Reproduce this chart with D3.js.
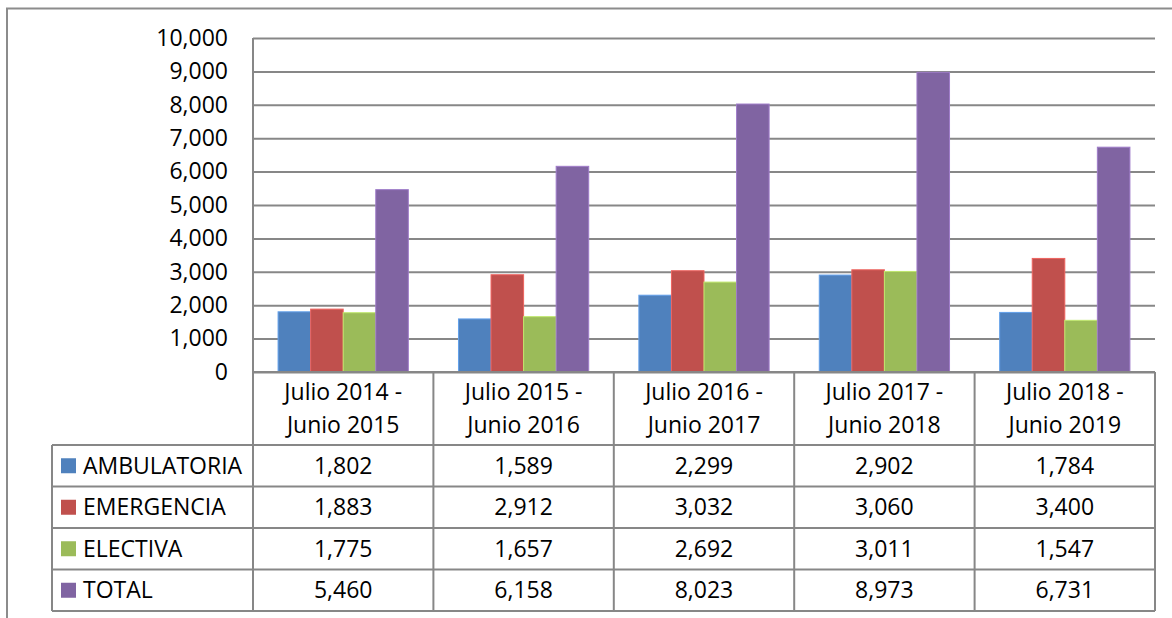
<!DOCTYPE html>
<html>
<head>
<meta charset="utf-8">
<script src="https://cdn.jsdelivr.net/npm/d3@7"></script>
<style>
  html, body { margin: 0; padding: 0; background: #fff; }
  svg { display: block; font-family: "Open Sans", "Liberation Sans", sans-serif; }
</style>
</head>
<body>
<svg id="chart" width="1172" height="618"></svg>
<script>
const categories = [
  ["Julio 2014 -", "Junio 2015"],
  ["Julio 2015 -", "Junio 2016"],
  ["Julio 2016 -", "Junio 2017"],
  ["Julio 2017 -", "Junio 2018"],
  ["Julio 2018 -", "Junio 2019"]
];
const seriesNames = ["AMBULATORIA", "EMERGENCIA", "ELECTIVA", "TOTAL"];
const ambulatoria = [1802, 1589, 2299, 2902, 1784];
const emergencia  = [1883, 2912, 3032, 3060, 3400];
const electiva    = [1775, 1657, 2692, 3011, 1547];
const total       = [5460, 6158, 8023, 8973, 6731];
const seriesColors = ["#4F81BD", "#C0504D", "#9BBB59", "#8064A2"];
const yTicks = [0, 1000, 2000, 3000, 4000, 5000, 6000, 7000, 8000, 9000, 10000];

const seriesValues = [ambulatoria, emergencia, electiva, total];
const catKeys = categories.map((c, i) => i);

const svg = d3.select("#chart");
const gridColor = "#878787";
const fontSize = 23;

const plotLeft = 253, plotRight = 1155, plotTop = 38, plotBottom = 372;
const tableLeft = 52;
const headerBottom = 445;
const rowH = 41.5;
const tableBottom = headerBottom + rowH * seriesNames.length;

const x = d3.scaleBand().domain(catKeys).range([plotLeft, plotRight]).padding(0);
const bw = x.bandwidth();
const xSub = d3.scaleBand().domain(d3.range(seriesNames.length))
  .range([bw * 0.139, bw * 0.861]).padding(0);
const y = d3.scaleLinear().domain([0, 10000]).range([plotBottom, plotTop]);

// outer chart border
svg.append("path")
  .attr("d", `M7,618 L7,8.5 L1172,8.5`)
  .attr("fill", "none").attr("stroke", "#8c8c8c").attr("stroke-width", 2);

// gridlines
svg.append("g")
  .attr("transform", `translate(${plotLeft},0)`)
  .call(d3.axisLeft(y).tickValues(yTicks).tickSize(-(plotRight - plotLeft)).tickFormat(""))
  .call(g => g.select(".domain").remove())
  .call(g => g.selectAll("line").attr("stroke", gridColor).attr("stroke-width", 2));

// y tick labels
svg.append("g")
  .attr("transform", `translate(${plotLeft},0)`)
  .call(d3.axisLeft(y).tickValues(yTicks).tickSize(0).tickPadding(25).tickFormat(d3.format(",")))
  .call(g => g.select(".domain").remove())
  .call(g => g.selectAll("text")
    .attr("font-size", fontSize).attr("fill", "#000")
    .attr("font-family", "'Open Sans', 'Liberation Sans', sans-serif"));

// bars
const groups = svg.append("g").selectAll("g")
  .data(catKeys).join("g")
  .attr("transform", d => `translate(${x(d)},0)`);
groups.selectAll("rect")
  .data(ci => seriesValues.map((vals, si) => ({ si, v: vals[ci] })))
  .join("rect")
  .attr("x", d => xSub(d.si))
  .attr("width", xSub.bandwidth())
  .attr("y", d => y(d.v))
  .attr("height", d => y(0) - y(d.v))
  .attr("fill", d => seriesColors[d.si])
  .attr("stroke", d => d3.color(seriesColors[d.si]).brighter(0.6))
  .attr("stroke-width", 1);

// table lines
const lines = svg.append("g").attr("stroke", gridColor).attr("stroke-width", 2).attr("fill", "none");
lines.append("line").attr("x1", plotLeft).attr("x2", plotRight).attr("y1", plotBottom).attr("y2", plotBottom);
lines.append("line").attr("x1", plotLeft).attr("x2", plotLeft).attr("y1", plotTop).attr("y2", tableBottom);
catKeys.forEach(ci => {
  const xr = x(ci) + bw;
  lines.append("line").attr("x1", xr).attr("x2", xr).attr("y1", plotBottom).attr("y2", tableBottom);
});
d3.range(seriesNames.length + 1).forEach(r => {
  const yy = headerBottom + r * rowH;
  lines.append("line").attr("x1", tableLeft).attr("x2", plotRight).attr("y1", yy).attr("y2", yy);
});
lines.append("line").attr("x1", tableLeft).attr("x2", tableLeft).attr("y1", headerBottom).attr("y2", tableBottom);

// category labels
const catText = svg.append("g").attr("font-size", fontSize).attr("fill", "#000").attr("text-anchor", "middle");
categories.forEach((lbls, ci) => {
  lbls.forEach((t, li) => {
    catText.append("text")
      .attr("x", x(ci) + bw / 2)
      .attr("y", 392 + li * 33)
      .attr("dy", "0.35em")
      .text(t);
  });
});

// table rows
const rowsG = svg.append("g").attr("font-size", fontSize).attr("fill", "#000");
seriesNames.forEach((name, si) => {
  const cy = headerBottom + si * rowH + rowH / 2;
  rowsG.append("rect")
    .attr("x", 61).attr("y", cy - 7.5).attr("width", 15).attr("height", 15)
    .attr("fill", seriesColors[si]);
  rowsG.append("text").attr("x", 83).attr("y", cy).attr("dy", "0.35em").text(name);
  seriesValues[si].forEach((v, ci) => {
    rowsG.append("text")
      .attr("x", x(ci) + bw / 2).attr("y", cy).attr("dy", "0.35em")
      .attr("text-anchor", "middle")
      .text(d3.format(",")(v));
  });
});
</script>
</body>
</html>
